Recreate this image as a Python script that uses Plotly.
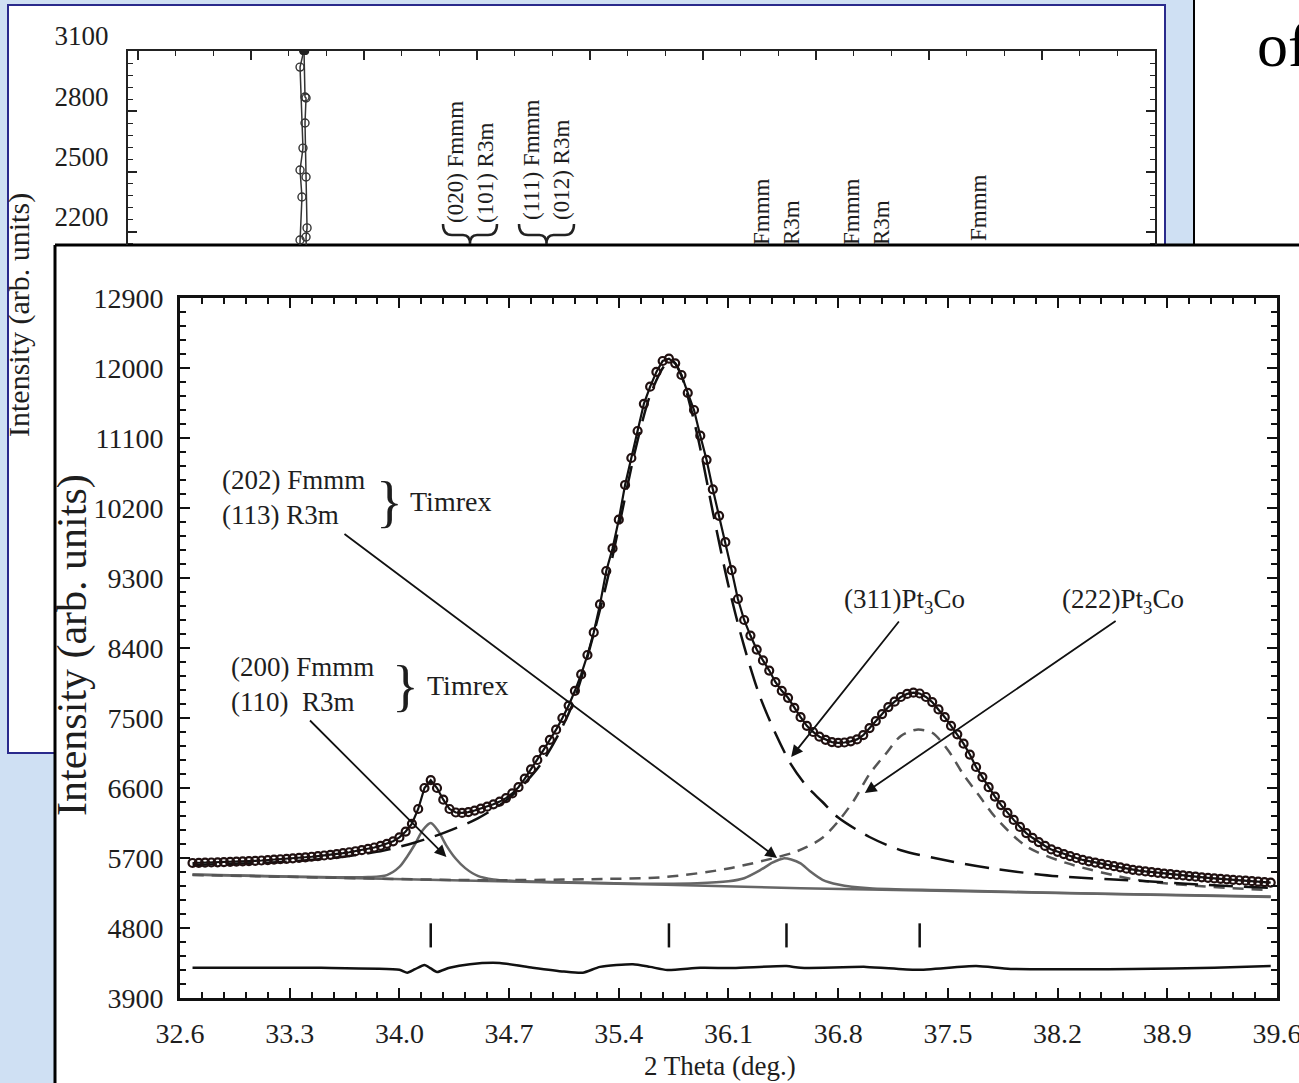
import plotly.graph_objects as go

W, H = 1299, 1083
FONT = "Liberation Serif, Times New Roman, serif"


def px(x):
    return x / W


def py(y):
    return 1 - y / H


# ---------------- main (front) chart data ----------------
obs_start = 32.68
obs_step = 0.04
obs_intensity = [
    5636, 5638, 5640, 5642, 5644, 5647, 5650, 5653, 5656, 5660,
    5664, 5668, 5673, 5678, 5684, 5690, 5696, 5702, 5709, 5716,
    5724, 5732, 5741, 5751, 5762, 5774, 5787, 5801, 5817, 5835,
    5857, 5882, 5915, 5965, 6040, 6140, 6330, 6600, 6700, 6600,
    6450, 6330, 6285, 6280, 6290, 6310, 6335, 6360, 6390, 6425,
    6470, 6530, 6610, 6720, 6840, 6960, 7090, 7220, 7350, 7500,
    7660, 7850, 8060, 8310, 8600, 8960, 9390, 9680, 10050, 10496,
    10843, 11190, 11540, 11760, 11950, 12090, 12120, 12060, 11910, 11680,
    11460, 11130, 10820, 10440, 10100, 9760, 9400, 9030, 8760, 8560,
    8380, 8240, 8110, 7960, 7850, 7760, 7630, 7510, 7400, 7320,
    7260, 7220, 7190, 7180, 7185, 7200, 7225, 7280, 7370, 7460,
    7550, 7640, 7710, 7770, 7810, 7825, 7815, 7770, 7705, 7610,
    7510, 7400, 7290, 7170, 7030, 6870, 6740, 6610, 6490, 6380,
    6280, 6190, 6100, 6020, 5960, 5905, 5855, 5810, 5780, 5750,
    5725, 5700, 5675, 5657, 5641, 5625, 5610, 5595, 5580, 5563,
    5548, 5537, 5527, 5518, 5509, 5500, 5492, 5484, 5476, 5468,
    5460, 5452, 5445, 5438, 5432, 5426, 5420, 5414, 5408, 5402,
    5396, 5390, 5384,
]
two_theta_obs = [round(obs_start + obs_step * i, 2) for i in range(len(obs_intensity))]

# long-dashed component (main peak)
ld_x = [32.68, 33.0, 33.3, 33.6, 33.9, 34.1, 34.3, 34.5, 34.7, 34.9, 35.1, 35.3, 35.4,
        35.5, 35.6, 35.7, 35.75, 35.8, 35.9, 36.0, 36.1, 36.2, 36.3, 36.4, 36.5, 36.6,
        36.7, 36.8, 37.0, 37.2, 37.5, 37.8, 38.2, 38.7, 39.1, 39.56]
ld_y = [5610, 5628, 5655, 5705, 5795, 5900, 6035, 6210, 6470, 6900, 7650, 9050, 9950,
        10900, 11650, 12050, 12080, 11900, 11150, 10150, 9200, 8420, 7780, 7300, 6900, 6620,
        6420, 6220, 5970, 5800, 5665, 5560, 5465, 5410, 5360, 5315]

# short-dashed component (222) Pt3Co
sd_x = [32.68, 33.5, 34.5, 35.3, 35.7, 36.1, 36.5, 36.6, 36.7, 36.8, 36.9, 37.0, 37.1,
        37.2, 37.3, 37.4, 37.5, 37.6, 37.7, 37.8, 38.0, 38.25, 38.7, 39.1, 39.56]
sd_y = [5482, 5450, 5415, 5430, 5456, 5565, 5760, 5842, 5960, 6170, 6440, 6780, 7030,
        7270, 7350, 7310, 7090, 6770, 6500, 6230, 5850, 5640, 5420, 5340, 5285]

# Timrex peaks (grey solid)
tx_x = [32.68, 33.3, 33.8, 33.92, 34.0, 34.05, 34.10, 34.15, 34.20, 34.25, 34.30, 34.36,
        34.42, 34.50, 34.60, 34.8, 35.2, 35.6, 35.9, 36.1, 36.2, 36.3, 36.38, 36.45, 36.5,
        36.56, 36.62, 36.7, 36.8, 37.0, 37.5, 38.5, 39.56]
tx_y = [5487, 5462, 5455, 5480, 5585, 5720, 5880, 6060, 6150, 6040, 5860, 5690,
        5570, 5470, 5425, 5400, 5385, 5370, 5375, 5400, 5440, 5540, 5640, 5695, 5680,
        5630, 5530, 5420, 5360, 5310, 5285, 5240, 5205]

# background line
bl_x = [32.68, 34.6, 35.7, 36.56, 38.04, 39.56]
bl_y = [5485, 5405, 5355, 5312, 5252, 5200]

# difference curve
rs_x = [32.68, 33.5, 34.0, 34.05, 34.10, 34.16, 34.20, 34.24, 34.32, 34.45, 34.64, 34.85,
        35.05, 35.17, 35.28, 35.49, 35.60, 35.71, 35.92, 36.13, 36.47, 36.56, 36.98, 37.30,
        37.68, 37.90, 38.68, 39.20, 39.56]
rs_y = [4290, 4288, 4262, 4225, 4270, 4325, 4280, 4235, 4290, 4335, 4350, 4290,
        4240, 4225, 4300, 4335, 4300, 4260, 4288, 4286, 4310, 4288, 4300, 4262,
        4312, 4274, 4274, 4290, 4312]

# Bragg reflection markers
bragg_pos = [34.20, 35.72, 36.47, 37.32]
bragg_lo, bragg_hi = 4550, 4860

# ---------------- back chart data ----------------
backA_x = [34.30, 34.34, 34.51, 34.34, 34.60, 34.34, 34.69, 34.72]
backA_y = [2100, 2160, 2374, 2508, 2617, 3020, 3105, 3200]
backB_x = [34.72, 34.69, 34.78, 34.87, 34.78, 34.87, 34.96, 34.87, 34.90]
backB_y = [3200, 3105, 2871, 2866, 2742, 2473, 2220, 2175, 2100]
backTop_x = [34.62, 34.68, 34.74, 34.80]
backTop_y = [3100, 3100, 3100, 3100]

fig = go.Figure()

# back chart traces
for bx, by in ((backA_x, backA_y), (backB_x, backB_y)):
    fig.add_trace(go.Scatter(
        x=bx, y=by, mode="lines+markers", xaxis="x", yaxis="y",
        line=dict(color="#333", width=1.5),
        marker=dict(symbol="circle-open", size=8, color="#333", line=dict(width=1.4)),
        showlegend=False, hoverinfo="skip"))
fig.add_trace(go.Scatter(
    x=backTop_x, y=backTop_y, mode="markers", xaxis="x", yaxis="y",
    marker=dict(symbol="circle", size=8, color="#222"), showlegend=False, hoverinfo="skip"))

# front chart traces
fig.add_trace(go.Scatter(x=bl_x, y=bl_y, mode="lines", xaxis="x2", yaxis="y2",
                         line=dict(color="#666", width=2.5), showlegend=False, hoverinfo="skip"))
fig.add_trace(go.Scatter(x=tx_x, y=tx_y, mode="lines", xaxis="x2", yaxis="y2",
                         line=dict(color="#666", width=2.5, shape="spline", smoothing=0.8),
                         showlegend=False, hoverinfo="skip"))
fig.add_trace(go.Scatter(x=sd_x, y=sd_y, mode="lines", xaxis="x2", yaxis="y2",
                         line=dict(color="#555", width=2.5, dash="11px,8px", shape="spline", smoothing=0.8),
                         showlegend=False, hoverinfo="skip"))
fig.add_trace(go.Scatter(x=ld_x, y=ld_y, mode="lines", xaxis="x2", yaxis="y2",
                         line=dict(color="#111", width=2.5, dash="24px,11px", shape="spline", smoothing=0.8),
                         showlegend=False, hoverinfo="skip"))
fig.add_trace(go.Scatter(x=two_theta_obs, y=obs_intensity, mode="lines+markers", xaxis="x2", yaxis="y2",
                         line=dict(color="#111", width=2.2),
                         marker=dict(symbol="circle-open", size=8, color="#201010", line=dict(width=2.2)),
                         showlegend=False, hoverinfo="skip"))
fig.add_trace(go.Scatter(x=rs_x, y=rs_y, mode="lines", xaxis="x2", yaxis="y2",
                         line=dict(color="#111", width=2.5, shape="spline", smoothing=0.6),
                         showlegend=False, hoverinfo="skip"))
bx, byv = [], []
for p in bragg_pos:
    bx += [p, p, None]
    byv += [bragg_lo, bragg_hi, None]
fig.add_trace(go.Scatter(x=bx, y=byv, mode="lines", xaxis="x2", yaxis="y2",
                         line=dict(color="#111", width=2.5), showlegend=False, hoverinfo="skip"))


# ---------------- shapes (panels) ----------------
def brace_path(x0, x1, ytop, ymid, ytip):
    xm = (x0 + x1) / 2
    pts = [
        ("M", [(x0, ytop)]),
        ("Q", [(x0, ymid), (x0 + 9, ymid)]),
        ("L", [(xm - 7, ymid)]),
        ("Q", [(xm, ymid), (xm, ytip)]),
        ("Q", [(xm, ymid), (xm + 7, ymid)]),
        ("L", [(x1 - 9, ymid)]),
        ("Q", [(x1, ymid), (x1, ytop)]),
    ]
    out = []
    for cmd, ps in pts:
        out.append(cmd + " " + " ".join(f"{px(a):.5f},{py(b):.5f}" for a, b in ps))
    return " ".join(out)


shapes = [
    dict(type="rect", xref="paper", yref="paper", x0=px(8), x1=px(1165), y0=py(753), y1=py(5),
         fillcolor="white", line=dict(color="#2a2a8c", width=2), layer="below"),
    dict(type="rect", xref="paper", yref="paper", x0=px(1194), x1=1.01, y0=py(245), y1=1.01,
         fillcolor="white", line=dict(width=0), layer="below"),
    dict(type="line", xref="paper", yref="paper", x0=px(1194), x1=px(1194), y0=py(245), y1=1.01,
         line=dict(color="black", width=2), layer="below"),
    dict(type="rect", xref="paper", yref="paper", x0=px(55), x1=1.01, y0=-0.01, y1=py(245),
         fillcolor="white", line=dict(width=0), layer="below"),
    dict(type="line", xref="paper", yref="paper", x0=px(55), x1=1.01, y0=py(245), y1=py(245),
         line=dict(color="black", width=3), layer="below"),
    dict(type="line", xref="paper", yref="paper", x0=px(55), x1=px(55), y0=-0.01, y1=py(245),
         line=dict(color="black", width=3), layer="below"),
]
for bx0, bx1 in ((443, 497), (519, 574)):
    shapes.append(dict(type="path", xref="paper", yref="paper",
                       path=brace_path(bx0, bx1, 224, 235, 244),
                       line=dict(color="#222", width=2.5), layer="above"))

TXT = "#1e1e1e"


def pann(xc, yc, text, size, angle=0, xa="center", ya="middle", align="center", color=TXT):
    return dict(xref="paper", yref="paper", x=px(xc), y=py(yc), text=text, textangle=angle,
                xanchor=xa, yanchor=ya, align=align, showarrow=False,
                font=dict(family=FONT, size=size, color=color))


ann = []
# back chart texts
ann.append(pann(19, 315, "Intensity (arb. units)", 30, angle=-90))
for xc, yc, t in ((470, 162, "(020) Fmmm<br>(101) R3m"), (546, 160, "(111) Fmmm<br>(012) R3m"),
                  (776, 212, "Fmmm<br>R3m"), (866, 212, "Fmmm<br>R3m"), (979, 208, "Fmmm")):
    ann.append(pann(xc, yc, t, 23, angle=-90, align="left"))
ann.append(pann(1255, 45, "of", 62, xa="left", color="black"))

# front chart titles
ann.append(pann(72, 645, "Intensity (arb. units)", 42, angle=-90))
ann.append(pann(720, 1066, "2 Theta (deg.)", 27))

# front chart labels
lab_font = dict(family=FONT, size=27, color=TXT)
ann += [
    dict(xref="x2", yref="y2", x=32.855, y=10329, xanchor="left", yanchor="middle", align="left",
         text="(202) Fmmm<br>(113) R3m", showarrow=False, font=lab_font),
    dict(xref="x2", yref="y2", x=33.94, y=10277, xanchor="center", yanchor="middle", text="}",
         showarrow=False, font=dict(family=FONT, size=56, color=TXT)),
    dict(xref="x2", yref="y2", x=34.055, y=10290, xanchor="left", yanchor="middle",
         text="Timrex", showarrow=False, font=dict(family=FONT, size=28, color=TXT)),
    dict(xref="x2", yref="y2", x=32.913, y=7937, xanchor="left", yanchor="middle", align="left",
         text="(200) Fmmm<br>(110)\u00a0 R3m", showarrow=False, font=lab_font),
    dict(xref="x2", yref="y2", x=34.036, y=7912, xanchor="center", yanchor="middle", text="}",
         showarrow=False, font=dict(family=FONT, size=56, color=TXT)),
    dict(xref="x2", yref="y2", x=34.163, y=7924, xanchor="left", yanchor="middle",
         text="Timrex", showarrow=False, font=dict(family=FONT, size=28, color=TXT)),
    dict(xref="x2", yref="y2", x=37.22, y=9004, xanchor="center", yanchor="middle",
         text="(311)Pt<sub>3</sub>Co", showarrow=False, font=lab_font),
    dict(xref="x2", yref="y2", x=38.617, y=9004, xanchor="center", yanchor="middle",
         text="(222)Pt<sub>3</sub>Co", showarrow=False, font=lab_font),
]
# arrows: (tip_x, tip_y, tail_x, tail_y)
arrows = [
    (34.30, 5713, 33.42, 7487),
    (36.41, 5700, 33.64, 9879),
    (36.50, 6999, 37.195, 8760),
    (36.97, 6536, 38.58, 8760),
]
for tx, ty, axx, ayy in arrows:
    ann.append(dict(xref="x2", yref="y2", axref="x2", ayref="y2", x=tx, y=ty, ax=axx, ay=ayy,
                    text="", showarrow=True, arrowhead=2, arrowsize=1.3, arrowwidth=1.8,
                    arrowcolor="#111", standoff=0, startstandoff=0))

axis_common = dict(showgrid=False, zeroline=False, automargin=False)

fig.update_layout(
    width=W, height=H, margin=dict(l=0, r=0, t=0, b=0),
    paper_bgcolor="#cfe0f3", plot_bgcolor="rgba(0,0,0,0)",
    showlegend=False, hovermode=False,
    font=dict(family=FONT, color=TXT),
    shapes=shapes, annotations=ann,
    xaxis=dict(domain=[px(128), px(1155)], range=[19.115, 110], side="top", anchor="y",
               showline=True, linecolor="#222", linewidth=2, mirror=False,
               ticks="inside", ticklen=9, tickwidth=1.5, tickcolor="#222",
               tick0=0, dtick=10, showticklabels=False,
               minor=dict(tick0=0, dtick=10 / 3, ticks="inside", ticklen=5, tickwidth=1.2,
                          tickcolor="#222", showgrid=False),
               **axis_common),
    yaxis=dict(domain=[py(245), py(51)], range=[2135, 3100.01], anchor="x",
               showline=True, linecolor="#222", linewidth=2, mirror="ticks",
               ticks="inside", ticklen=9, tickwidth=1.5, tickcolor="#222",
               tick0=2200, dtick=300, tickformat="d",
               tickfont=dict(family=FONT, size=27, color=TXT),
               ticklabelshift=-15, ticklabelstandoff=12,
               minor=dict(tick0=2200, dtick=60, ticks="inside", ticklen=5, tickwidth=1.2,
                          tickcolor="#222", showgrid=False),
               **axis_common),
    xaxis2=dict(domain=[px(180), px(1277)], range=[32.6, 39.6001], anchor="y2",
                showline=True, linecolor="#111", linewidth=3, mirror="ticks",
                ticks="inside", ticklen=10, tickwidth=2, tickcolor="#111",
                tick0=32.6, dtick=0.7, tickformat=".1f", ticklabeloverflow="allow",
                tickfont=dict(family=FONT, size=28, color=TXT), ticklabelstandoff=8,
                minor=dict(tick0=32.6, dtick=0.14, ticks="inside", ticklen=6, tickwidth=1.5,
                           tickcolor="#111", showgrid=False),
                **axis_common),
    yaxis2=dict(domain=[py(998), py(298)], range=[3900, 12900.01], anchor="x2",
                showline=True, linecolor="#111", linewidth=3, mirror="ticks",
                ticks="inside", ticklen=10, tickwidth=2, tickcolor="#111",
                tick0=3900, dtick=900, tickformat="d", ticklabeloverflow="allow",
                tickfont=dict(family=FONT, size=28, color=TXT), ticklabelstandoff=8,
                minor=dict(tick0=3900, dtick=180, ticks="inside", ticklen=6, tickwidth=1.5,
                           tickcolor="#111", showgrid=False),
                **axis_common),
)

fig.write_html("out.html")
